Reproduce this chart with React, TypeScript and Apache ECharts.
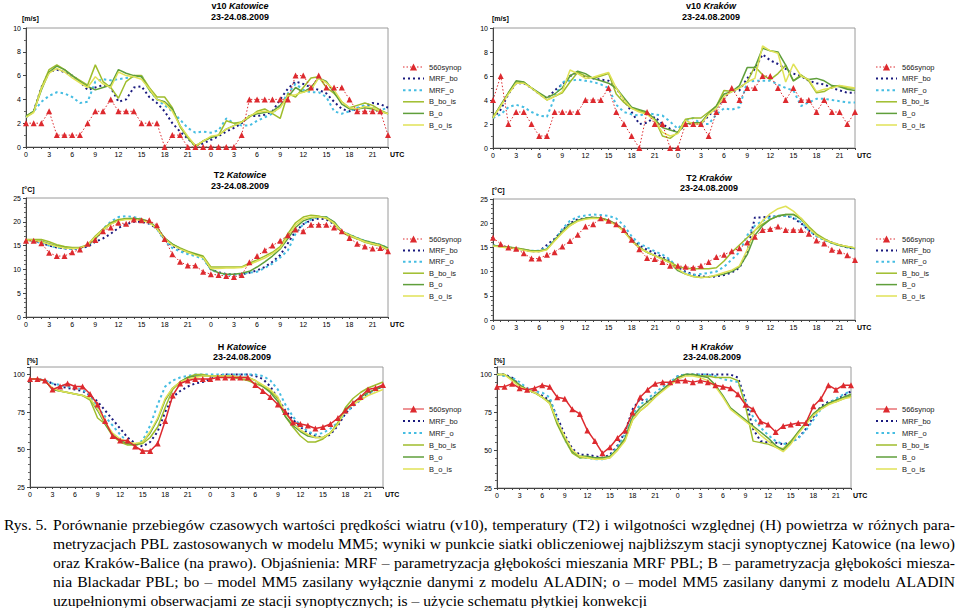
import React, { useEffect, useRef } from 'react';
import * as echarts from 'echarts';

// ---------- tick labels ----------
const HOURS = ['0','1','2','3','4','5','6','7','8','9','10','11','12','13','14','15','16','17','18','19','20','21','22','23',
  '0','1','2','3','4','5','6','7','8','9','10','11','12','13','14','15','16','17','18','19','20','21','22','23'];

// ---------- v10 Katowice ----------
const V10_KAT_SYNOP = [2,2,2,3,1,1,1,1,2,3,3,4,3,3,3,2,2,2,0,1,1,0,0,0, 0,0,0,0,1,4,4,4,4,4,4,6,6,5,6,5,5,5,4,3,3,3,3,1];
const V10_KAT_MRF_BO = [2.5,3.0,5.0,6.3,6.5,6.3,6.0,5.5,4.8,5.0,5.2,5.0,3.8,4.0,5.0,5.1,4.2,3.7,3.0,2.0,1.3,0.7,0.1,0.3, 0.6,0.9,1.3,1.6,2.0,2.6,2.6,2.7,3.0,4.0,4.9,5.5,5.3,5.0,4.8,4.5,3.8,3.2,3.0,3.2,3.4,3.7,3.6,3.3];
const V10_KAT_MRF_O = [2.5,3.0,3.8,4.3,4.6,4.5,4.2,3.7,3.8,5.5,5.7,5.6,5.7,5.8,5.9,6.0,4.8,4.0,3.5,3.0,2.3,1.6,1.2,1.3, 1.2,1.4,2.4,2.0,1.8,1.8,2.2,2.5,2.8,3.5,4.5,5.3,4.8,4.6,4.6,4.2,3.0,2.8,3.0,3.3,3.5,3.3,3.1,3.3];
const V10_KAT_B_BO_IS = [2.6,3.0,5.0,6.5,6.9,6.5,6.0,5.6,5.2,6.9,5.5,5.0,4.1,5.5,6.0,6.0,5.0,4.2,4.2,3.3,1.7,0.8,0.0,0.5, 0.8,1.0,2.2,2.0,2.1,2.5,3.0,3.2,2.8,2.4,4.5,4.2,5.0,5.8,5.9,5.0,4.5,3.8,3.3,3.5,3.7,3.5,3.1,2.8];
const V10_KAT_B_O = [2.6,3.0,4.8,6.3,6.8,6.5,6.0,5.5,5.1,4.8,5.0,5.2,6.5,6.2,6.0,5.9,4.8,4.0,3.8,3.2,1.8,0.8,0.1,0.5, 0.8,1.0,1.5,1.8,2.1,2.6,2.8,2.9,3.0,3.5,4.2,5.0,4.6,5.0,5.8,5.5,4.6,3.6,3.2,3.2,3.3,3.2,3.0,2.8];
const V10_KAT_B_O_IS = [2.5,2.9,4.9,6.2,6.6,6.3,5.8,5.4,5.0,5.9,5.3,5.0,6.3,6.0,5.9,5.7,4.9,4.0,3.7,3.0,1.8,0.9,0.1,0.5, 0.9,1.0,1.5,1.8,2.1,2.6,2.9,3.0,2.9,3.3,4.3,4.4,4.6,4.8,5.8,5.4,4.8,3.8,3.3,3.2,3.4,3.3,3.0,2.8];

// ---------- v10 Kraków ----------
const V10_KRK_SYNOP = [4,6,2,3,3,2,1,1,3,3,3,3,4,4,4,5,3,2,1,0,3,2,2,0, 0,2,2,2,1,3,4,5,4,5,5,6,6,5,4,5,4,4,3,4,3,3,2,3];
const V10_KRK_MRF_BO = [2.5,3.2,4.5,5.4,5.4,5.0,4.5,4.1,4.8,5.3,6.0,6.3,5.9,5.8,5.7,5.6,5.0,4.0,3.0,2.0,2.1,2.6,2.0,1.6, 1.3,2.0,2.1,2.0,2.7,3.3,4.2,4.8,4.8,5.8,6.6,7.8,7.3,7.0,6.6,6.2,6.0,5.6,5.4,5.3,5.0,4.8,4.6,4.6];
const V10_KRK_MRF_O = [2.5,2.8,3.4,3.6,3.4,3.0,2.7,2.6,4.2,5.5,5.6,5.7,5.6,5.5,5.3,5.0,3.6,3.0,2.8,2.7,2.9,2.8,2.7,2.2, 1.6,2.3,2.5,2.0,2.0,2.8,3.3,3.2,3.4,5.5,5.6,5.6,5.6,5.3,5.0,4.8,3.5,3.8,4.1,4.1,4.0,3.9,3.8,3.8];
const V10_KRK_B_BO_IS = [2.6,3.5,4.6,5.5,5.5,5.0,4.5,4.0,4.3,4.6,5.5,6.3,6.0,5.8,6.0,6.2,4.5,3.8,3.3,3.1,2.9,2.4,1.0,0.8, 1.3,2.4,2.5,2.5,3.0,3.5,4.8,4.7,5.0,5.5,6.8,6.1,5.7,6.2,6.9,5.6,6.1,5.6,4.6,4.7,5.1,5.2,5.0,5.0];
const V10_KRK_B_O = [2.5,3.6,4.6,5.6,5.5,5.0,4.6,4.2,4.5,5.0,6.0,6.4,6.2,5.8,5.6,5.4,5.0,4.2,3.4,3.2,3.0,2.4,1.7,1.5, 1.3,2.0,2.1,2.1,2.9,3.5,4.5,4.7,5.2,6.7,6.7,8.3,8.1,8.0,6.9,5.6,6.0,5.7,5.8,5.6,5.2,5.1,4.9,4.8];
const V10_KRK_B_O_IS = [2.5,3.5,4.5,5.4,5.4,5.0,4.5,4.0,4.3,4.7,6.5,6.2,5.8,5.9,6.1,6.3,5.0,4.0,3.3,3.0,2.8,2.3,1.3,1.0, 1.2,2.3,2.0,2.0,2.8,3.3,4.3,4.7,5.0,5.5,5.8,8.5,8.1,7.9,5.5,7.0,6.0,5.7,4.7,4.9,5.0,5.2,5.1,5.0];

// ---------- T2 Katowice ----------
const T2_KAT_SYNOP = [16.0,16.0,15.5,13.5,12.8,12.8,13.6,14.2,15.4,16.2,18.0,18.8,19.8,19.6,20.5,20.3,20.3,19.3,16.4,13.2,11.6,10.8,10.8,9.5, 9.0,8.8,8.6,8.4,8.8,11.5,12.8,14.0,15.0,16.0,17.2,18.4,18.0,19.4,19.4,19.4,18.8,18.0,16.6,15.4,14.8,14.4,14.5,13.8];
const T2_KAT_MRF_BO = [16.2,16.1,15.6,15.0,14.6,14.4,14.3,14.4,14.8,15.8,16.5,17.5,18.7,19.5,20.0,20.0,19.6,18.6,16.3,14.9,14.2,13.6,13.1,12.6, 10.0,9.4,9.0,9.0,9.0,9.3,9.8,10.5,11.6,13.0,15.5,18.0,19.5,20.3,20.7,20.5,19.5,18.0,17.2,16.5,15.9,15.4,15.0,14.2];
const T2_KAT_MRF_O = [16.2,16.0,15.5,15.0,14.6,14.4,14.3,14.5,15.0,16.5,18.5,20.0,21.0,21.2,21.0,20.6,19.8,18.5,16.0,14.5,13.8,13.2,12.8,12.2, 10.0,9.2,8.9,8.9,9.0,9.3,9.5,10.3,11.2,12.5,14.0,17.5,19.5,20.5,21.0,21.0,19.8,18.0,17.3,16.6,16.0,15.6,15.2,14.5];
const T2_KAT_B_BO_IS = [16.3,16.3,16.3,15.8,15.2,14.8,14.6,14.6,15.2,17.0,18.5,19.8,20.5,20.7,20.7,20.6,20.0,18.6,16.5,15.3,14.5,13.8,13.3,12.8, 10.5,10.5,10.5,10.5,10.5,11.3,12.0,12.8,13.6,14.8,17.5,19.8,21.0,21.4,21.2,20.7,19.6,17.8,17.0,16.4,15.7,15.3,14.9,14.1];
const T2_KAT_B_O = [16.1,16.0,15.9,15.4,14.9,14.6,14.4,14.5,15.0,16.5,18.2,19.6,20.3,20.6,20.7,20.5,20.0,18.8,16.6,15.3,14.4,13.6,13.2,12.6, 10.0,9.3,9.0,9.0,9.2,9.6,10.5,11.6,12.8,14.3,16.5,18.8,20.2,20.8,21.0,21.0,20.0,18.0,17.3,16.6,16.0,15.6,15.2,14.5];
const T2_KAT_B_O_IS = [16.2,16.1,15.8,15.3,14.8,14.5,14.4,14.5,15.1,16.8,18.3,19.5,20.2,20.5,20.5,20.3,19.8,18.6,16.4,15.1,14.3,13.6,13.0,12.5, 10.2,10.2,10.3,10.3,10.4,11.0,11.7,12.4,13.3,14.5,17.0,19.3,20.6,21.0,21.0,20.8,19.7,18.0,17.2,16.5,15.8,15.4,15.0,14.2];

// ---------- T2 Kraków ----------
const T2_KRK_SYNOP = [17.0,15.7,15.0,14.7,13.8,12.7,12.7,13.5,14.0,15.2,16.3,17.6,19.3,19.8,21.0,20.5,19.8,18.6,16.6,14.6,12.8,12.6,12.0,11.2, 11.2,11.0,10.8,11.2,12.0,13.0,13.5,14.2,14.8,16.0,17.2,18.6,18.8,19.3,18.6,18.6,18.6,17.8,16.4,15.8,14.5,14.2,13.4,12.4];
const T2_KRK_MRF_BO = [15.4,15.2,15.0,14.8,14.5,14.2,14.2,15.5,16.8,18.5,20.0,20.8,21.0,21.2,21.0,20.5,19.8,18.5,16.6,15.4,14.5,13.8,13.0,12.2, 10.8,10.0,9.4,9.0,8.9,9.0,9.3,9.8,10.8,14.0,21.2,21.2,21.4,21.4,21.6,21.0,20.0,18.5,17.4,16.6,16.0,15.5,15.0,14.7];
const T2_KRK_MRF_O = [15.4,15.2,15.0,14.8,14.5,14.3,14.3,15.0,16.5,18.8,20.5,21.3,21.6,21.8,21.7,21.5,21.0,19.5,17.3,15.8,15.0,14.2,13.5,12.5, 10.5,9.7,9.3,9.5,9.7,10.0,11.0,12.5,14.0,17.5,19.5,20.5,21.2,21.6,21.5,21.2,20.2,18.5,17.3,16.5,15.9,15.4,15.0,14.8];
const T2_KRK_B_BO_IS = [15.4,15.2,15.1,14.9,14.6,14.3,14.3,14.6,16.5,18.2,19.5,20.5,21.0,21.2,21.1,20.6,19.8,18.5,16.5,15.0,14.0,13.3,12.7,12.0, 11.0,10.7,10.6,10.6,10.6,10.8,12.2,14.0,15.5,17.0,18.5,19.8,20.8,21.5,21.8,21.8,21.0,19.3,17.8,16.8,16.0,15.5,15.2,14.9];
const T2_KRK_B_O = [15.4,15.2,15.0,14.8,14.5,14.2,14.2,14.6,16.5,18.3,19.8,20.6,21.0,21.2,21.0,20.6,19.8,18.4,16.4,15.0,14.0,13.3,12.6,11.8, 10.2,9.5,9.0,8.8,8.9,9.2,9.5,10.0,11.0,13.5,17.5,19.5,20.8,21.5,21.8,21.8,20.8,19.0,17.6,16.6,15.9,15.4,15.1,14.9];
const T2_KRK_B_O_IS = [15.3,15.1,14.9,14.7,14.4,14.1,14.1,14.5,16.3,18.0,19.5,20.4,20.8,21.0,20.9,20.4,19.6,18.3,16.3,14.9,14.0,13.3,12.5,11.8, 10.5,9.5,9.0,8.8,8.9,9.3,9.8,10.3,11.2,14.5,18.5,20.5,22.0,23.0,23.5,22.5,21.0,19.0,17.5,16.6,16.0,15.5,15.2,14.9];

// ---------- H Katowice ----------
const H_KAT_SYNOP = [97,97,96,90,92,94,92,92,87,80,69,59,56,56,52,49,49,54,69,86,94,96,97,97, 97,98,98,98,98,98,93,89,85,80,75,68,67,66,64,65,67,71,76,81,85,90,91,93];
const H_KAT_MRF_BO = [97,97,96,94,92,91,90,89,86,82,76,70,64,58,54,52,55,62,75,85,89,92,94,95, 97,99,100,100,100,100,99,97,92,84,76,70,65,61,59,58,60,66,74,79,83,87,90,92];
const H_KAT_MRF_O = [97,97,96,94,93,92,91,90,86,78,72,66,60,55,53,56,66,80,92,96,98,99,100,100, 100,100,100,100,100,100,100,99,96,90,80,72,66,62,60,61,64,68,74,79,83,87,90,92];
const H_KAT_B_BO_IS = [97,97,96,90,89,88,87,86,83,71,67,59,55,53,53,54,58,65,78,90,95,98,100,100, 99,99,98,98,97,96,94,92,89,84,72,65,59,55,55,57,61,68,78,84,88,91,93,95];
const H_KAT_B_O = [97,97,96,90,89,88,87,86,84,76,67,60,56,54,53,55,61,70,83,91,95,98,99,99, 99,99,99,99,98,98,96,92,88,82,72,66,62,59,58,58,61,67,77,81,85,88,90,92];
const H_KAT_B_O_IS = [97,97,96,91,89,88,87,86,84,77,68,61,57,55,54,55,62,71,84,91,95,97,98,99, 99,99,99,99,98,98,96,93,90,85,74,68,63,60,58,58,61,67,76,80,83,86,88,90];

// ---------- H Kraków ----------
const H_KRK_SYNOP = [92,92,94,91,90,91,93,92,85,84,77,74,63,56,48,52,58,63,75,85,90,94,95,95, 96,96,95,96,95,93,92,91,87,80,77,69,67,62,66,67,68,68,79,84,93,90,93,93];
const H_KRK_MRF_BO = [100,100,98,93,90,88,86,83,72,60,51,47,47,46,45,47,53,62,77,84,82,86,90,94, 99,100,100,100,100,100,100,100,98,83,64,56,55,55,54,55,58,64,72,79,82,83,86,89];
const H_KRK_MRF_O = [100,99,98,95,91,89,88,85,70,57,49,45,45,44,44,46,52,61,74,80,84,88,92,95, 99,100,100,100,100,99,97,96,95,82,72,65,60,56,54,55,58,63,70,77,81,84,87,89];
const H_KRK_B_BO_IS = [100,100,97,93,90,88,85,81,67,57,48,45,45,45,44,45,50,57,70,76,80,85,90,94, 98,100,100,99,99,98,98,98,96,79,56,55,54,52,51,56,62,68,74,78,81,82,84,86];
const H_KRK_B_O = [100,100,97,93,90,88,85,82,68,58,49,46,46,45,45,46,51,58,72,78,82,86,90,94, 98,100,100,99,98,93,86,78,74,70,66,62,58,53,50,55,62,68,74,78,81,83,85,87];
const H_KRK_B_O_IS = [100,100,96,92,90,88,85,81,69,59,50,46,45,44,44,45,50,56,70,76,80,85,89,93, 97,99,99,98,96,92,85,77,73,69,65,60,56,52,49,54,61,67,73,77,80,82,84,85];

// ---------- texts ----------
const DATE_LABEL = '23-24.08.2009';
const SERIES_NAMES = ['MRF_bo', 'MRF_o', 'B_bo_is', 'B_o', 'B_o_is'];
const CAPTION_LABEL = 'Rys. 5.';
const CAPTION_LINES = [
  'Porównanie przebiegów czasowych wartości prędkości wiatru (v10), temperatury (T2) i wilgotności względnej (H) powietrza w różnych para-',
  'metryzacjach PBL zastosowanych w modelu MM5; wyniki w punkcie siatki obliczeniowej najbliższym stacji synoptycznej Katowice (na lewo)',
  'oraz Kraków-Balice (na prawo). Objaśnienia: MRF – parametryzacja głębokości mieszania MRF PBL; B – parametryzacja głębokości miesza-',
  'nia Blackadar PBL; bo – model MM5 zasilany wyłącznie danymi z modelu ALADIN; o – model MM5 zasilany danymi z modelu ALADIN',
  'uzupełnionymi obserwacjami ze stacji synoptycznych; is – użycie schematu płytkiej konwekcji',
];

// ---------- styles ----------
const SANS = 'Arial, "Liberation Sans", sans-serif';
const SERIF = '"Liberation Serif", "Times New Roman", serif';
const RED = '#dd2a2f';
const COLORS: Record<string, string> = {
  MRF_bo: '#1a1a7e',
  MRF_o: '#45bde2',
  B_bo_is: '#9fbd2c',
  B_o: '#5f9f3b',
  B_o_is: '#e0e257',
};
const WIDTHS: Record<string, number> = { MRF_bo: 2, MRF_o: 2, B_bo_is: 1.5, B_o: 1.5, B_o_is: 1.5 };
const DASHES: Record<string, any> = { MRF_bo: [2, 3], MRF_o: [2.5, 3], B_bo_is: 'solid', B_o: 'solid', B_o_is: 'solid' };

const PANELS = [
  { variable: 'v10', station: 'Katowice', synopName: '560synop', solid: false, unit: '[m/s]',
    grid: { left: 26, top: 28, width: 362, height: 119 }, yMin: 0, yMax: 10, yStep: 2, minor: 2,
    title: { x: 240, y1: 6, y2: 17 }, unitPos: { x: 22, y: 18 }, legend: { left: 402, top: 62.5, gap: 2.6 },
    data: [V10_KAT_SYNOP, V10_KAT_MRF_BO, V10_KAT_MRF_O, V10_KAT_B_BO_IS, V10_KAT_B_O, V10_KAT_B_O_IS] },
  { variable: 'v10', station: 'Kraków', synopName: '566synop', solid: false, unit: '[m/s]',
    grid: { left: 493, top: 28, width: 362, height: 120 }, yMin: 0, yMax: 10, yStep: 2, minor: 2,
    title: { x: 711, y1: 6, y2: 17 }, unitPos: { x: 492, y: 18 }, legend: { left: 875, top: 62.5, gap: 2.6 },
    data: [V10_KRK_SYNOP, V10_KRK_MRF_BO, V10_KRK_MRF_O, V10_KRK_B_BO_IS, V10_KRK_B_O, V10_KRK_B_O_IS] },
  { variable: 'T2', station: 'Katowice', synopName: '560synop', solid: false, unit: '[°C]',
    grid: { left: 26, top: 198, width: 362, height: 119 }, yMin: 0, yMax: 25, yStep: 5, minor: 5,
    title: { x: 240, y1: 175, y2: 186 }, unitPos: { x: 22, y: 189 }, legend: { left: 402, top: 234.5, gap: 2.4 },
    data: [T2_KAT_SYNOP, T2_KAT_MRF_BO, T2_KAT_MRF_O, T2_KAT_B_BO_IS, T2_KAT_B_O, T2_KAT_B_O_IS] },
  { variable: 'T2', station: 'Kraków', synopName: '566synop', solid: false, unit: '[°C]',
    grid: { left: 493, top: 199, width: 362, height: 121 }, yMin: 0, yMax: 25, yStep: 5, minor: 5,
    title: { x: 709, y1: 178, y2: 188 }, unitPos: { x: 492, y: 190 }, legend: { left: 875, top: 234.5, gap: 2.4 },
    data: [T2_KRK_SYNOP, T2_KRK_MRF_BO, T2_KRK_MRF_O, T2_KRK_B_BO_IS, T2_KRK_B_O, T2_KRK_B_O_IS] },
  { variable: 'H', station: 'Katowice', synopName: '560synop', solid: true, unit: '[%]',
    grid: { left: 30, top: 367, width: 353, height: 120 }, yMin: 25, yMax: 105, yStep: 25, minor: 5,
    title: { x: 242, y1: 347, y2: 357 }, unitPos: { x: 27, y: 360 }, legend: { left: 402, top: 404.5, gap: 3 },
    data: [H_KAT_SYNOP, H_KAT_MRF_BO, H_KAT_MRF_O, H_KAT_B_BO_IS, H_KAT_B_O, H_KAT_B_O_IS] },
  { variable: 'H', station: 'Kraków', synopName: '566synop', solid: true, unit: '[%]',
    grid: { left: 497, top: 367, width: 354, height: 121 }, yMin: 25, yMax: 105, yStep: 25, minor: 5,
    title: { x: 712, y1: 347, y2: 357 }, unitPos: { x: 494, y: 360 }, legend: { left: 875, top: 404.5, gap: 3 },
    data: [H_KRK_SYNOP, H_KRK_MRF_BO, H_KRK_MRF_O, H_KRK_B_BO_IS, H_KRK_B_O, H_KRK_B_O_IS] },
];

// caption: serif, justified, hanging indent
const CAP_FS = 15.6;
const CAP_Y0 = 524.2;
const CAP_DY = 19.0;

function buildCaption(): any[] {
  const els: any[] = [];
  const canvas = document.createElement('canvas');
  const ctx = canvas.getContext('2d');
  if (ctx) ctx.font = `${CAP_FS}px "Liberation Serif"`;
  const measure = (s: string) => (ctx ? ctx.measureText(s).width : s.length * CAP_FS * 0.44);
  const base = { fontSize: CAP_FS, fontFamily: SERIF, fill: '#000', verticalAlign: 'middle', align: 'left' };
  const mk = (x: number, y: number, text: string) => ({ type: 'text', x, y, silent: true, style: { ...base, text } });
  els.push(mk(4, CAP_Y0, CAPTION_LABEL));
  const x0 = 53;
  const xR = 955;
  CAPTION_LINES.forEach((line, li) => {
    const y = CAP_Y0 + li * CAP_DY;
    if (li === CAPTION_LINES.length - 1) {
      els.push(mk(x0, y, line));
      return;
    }
    const words = line.split(' ');
    const widths = words.map(measure);
    const total = widths.reduce((a, b) => a + b, 0);
    const gap = (xR - x0 - total) / (words.length - 1);
    let x = x0;
    words.forEach((w, k) => {
      els.push(mk(x, y, w));
      x += widths[k] + gap;
    });
  });
  return els;
}

function buildOption() {
  const grid = PANELS.map((p) => ({ ...p.grid, show: true, borderColor: '#9a9a9a', borderWidth: 1, backgroundColor: 'transparent' }));
  const xAxis = PANELS.map((p, i) => ({
    type: 'category', gridIndex: i, data: HOURS, boundaryGap: false,
    name: 'UTC', nameLocation: 'end', nameGap: 2,
    nameTextStyle: { fontSize: 7, fontWeight: 'bold', color: '#000', fontFamily: SANS, verticalAlign: 'top', padding: [4, 0, 0, 0] },
    axisLine: { show: true, lineStyle: { color: '#444', width: 1 } },
    axisTick: { show: true, interval: 0, length: 2, lineStyle: { color: '#444' } },
    axisLabel: { interval: 2, fontSize: 7, color: '#000', margin: 4, fontFamily: SANS },
    splitLine: { show: false },
  }));
  const yAxis = PANELS.map((p, i) => ({
    type: 'value', gridIndex: i, min: p.yMin, max: p.yMax, interval: p.yStep,
    axisLine: { show: true, lineStyle: { color: '#444', width: 1 } },
    axisTick: { show: true, length: 3, lineStyle: { color: '#444' } },
    minorTick: { show: true, splitNumber: p.minor, length: 2, lineStyle: { color: '#666' } },
    axisLabel: { fontSize: 7, color: '#000', margin: 5, fontFamily: SANS, showMaxLabel: p.yMax % p.yStep === 0 },
    splitLine: { show: false },
  }));
  const legend = PANELS.map((p) => ({
    orient: 'vertical', left: p.legend.left, top: p.legend.top, padding: 0,
    itemWidth: 21, itemHeight: 9, itemGap: p.legend.gap, selectedMode: false,
    textStyle: { fontSize: 7.5, color: '#222', fontFamily: SANS, lineHeight: 9 },
    data: [
      { name: p.synopName, lineStyle: { type: p.solid ? 'solid' : [1.5, 2], color: RED, width: 1 }, itemStyle: { color: RED } },
      ...SERIES_NAMES.map((n) => ({ name: n, lineStyle: { type: DASHES[n], color: COLORS[n], width: WIDTHS[n] }, itemStyle: { opacity: 0 } })),
    ],
  }));
  const series: any[] = [];
  PANELS.forEach((p, i) => {
    series.push({
      name: p.synopName, type: 'line', xAxisIndex: i, yAxisIndex: i, data: p.data[0],
      symbol: 'triangle', symbolSize: 6, showSymbol: true, showAllSymbol: true, z: 6, silent: true,
      emphasis: { disabled: true },
      lineStyle: { color: RED, width: p.solid ? 1.5 : 1, type: p.solid ? 'solid' : [1.5, 2] },
      itemStyle: { color: RED },
    });
    SERIES_NAMES.forEach((n, k) => {
      series.push({
        name: n, type: 'line', xAxisIndex: i, yAxisIndex: i, data: p.data[k + 1],
        symbol: 'none', silent: true, z: 2 + k * 0.1,
        emphasis: { disabled: true },
        lineStyle: { color: COLORS[n], width: WIDTHS[n], type: DASHES[n] },
        itemStyle: { color: COLORS[n] },
      });
    });
  });
  const graphic: any[] = [];
  PANELS.forEach((p) => {
    graphic.push({
      type: 'text', x: p.title.x, y: p.title.y1, silent: true,
      style: {
        text: `{n|${p.variable} }{i|${p.station}}`, align: 'center', verticalAlign: 'middle',
        fontSize: 9, fontWeight: 'bold', fontFamily: SANS, fill: '#000',
        rich: {
          n: { fontSize: 9, fontWeight: 'bold', fontFamily: SANS, fill: '#000' },
          i: { fontSize: 9, fontWeight: 'bold', fontStyle: 'italic', fontFamily: SANS, fill: '#000' },
        },
      },
    });
    graphic.push({
      type: 'text', x: p.title.x, y: p.title.y2, silent: true,
      style: { text: DATE_LABEL, align: 'center', verticalAlign: 'middle', fontSize: 9, fontWeight: 'bold', fontFamily: SANS, fill: '#000' },
    });
    graphic.push({
      type: 'text', x: p.unitPos.x, y: p.unitPos.y, silent: true,
      style: { text: p.unit, align: 'left', verticalAlign: 'middle', fontSize: 7, fontWeight: 'bold', fontFamily: SANS, fill: '#000' },
    });
  });
  graphic.push(...buildCaption());

  return {
    animation: false,
    backgroundColor: '#ffffff',
    grid, xAxis, yAxis, legend, series, graphic,
  };
}

export default function App() {
  const ref = useRef<HTMLDivElement>(null);
  useEffect(() => {
    if (!ref.current) return;
    const chart = echarts.init(ref.current, undefined, { renderer: 'svg' });
    chart.setOption(buildOption() as any);
    return () => chart.dispose();
  }, []);
  return <div ref={ref} style={{ position: 'absolute', left: 0, top: 0, width: 960, height: 608 }} />;
}
